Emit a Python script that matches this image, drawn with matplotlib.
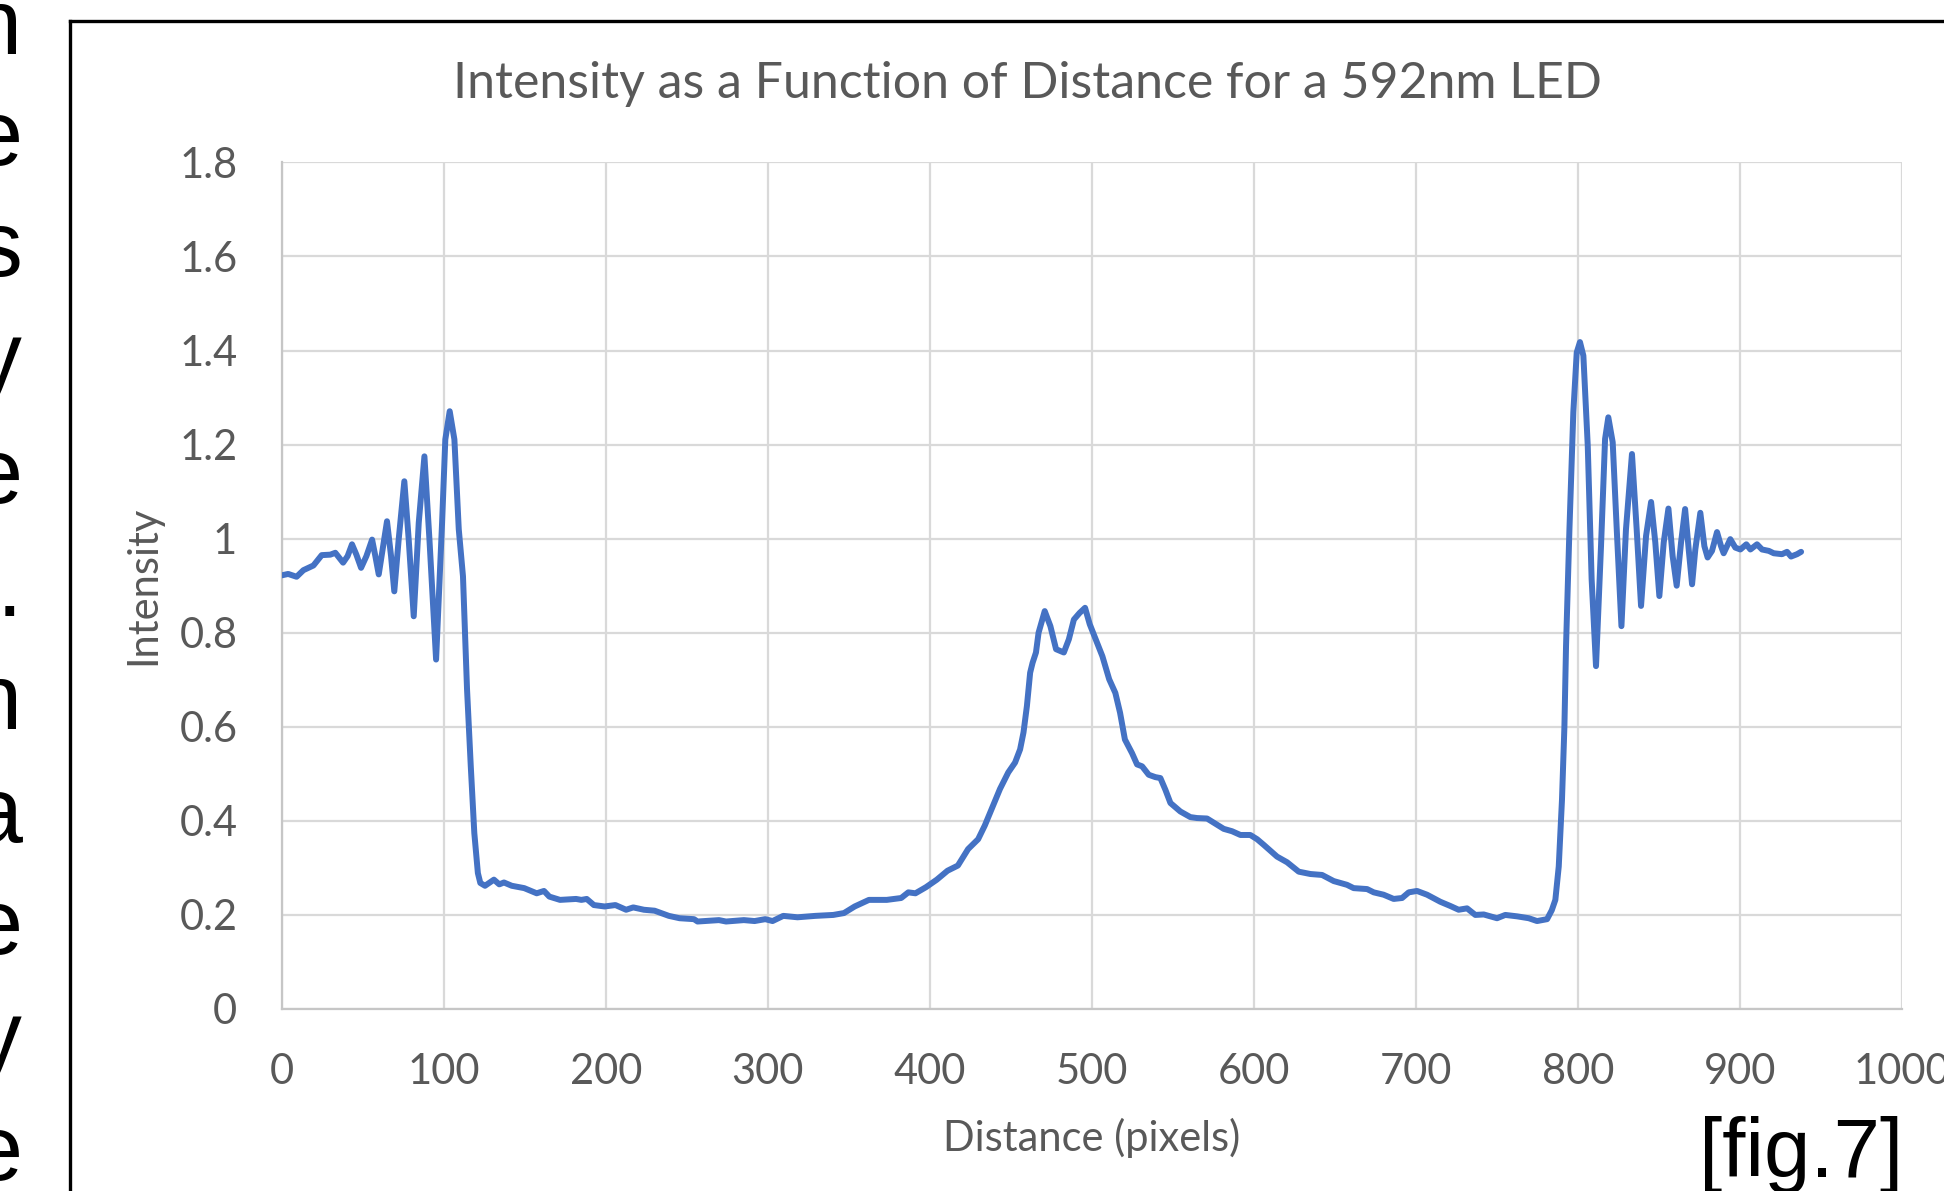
import matplotlib
matplotlib.use("Agg")
import matplotlib.pyplot as plt
from matplotlib.lines import Line2D

# distance (pixels) / intensity
distance = [0, 4, 9.2, 13.4, 19.6, 24.7, 30, 33.1, 37.9, 40.7, 43.4, 46.1, 49,
            52.3, 55.8, 57.8, 59.9, 62.6, 65, 67.5, 69.5, 72.2, 75.7, 78.4, 81.5,
            84.6, 88.1, 91.2, 95.3, 99, 101, 103.7, 106.6, 109.3, 111.9, 114.4,
            116.7, 118.9, 121.1, 122.6, 125.5, 131, 134.3, 137.2, 142, 149.7,
            157.4, 161.9, 165.2, 171.8, 181.7, 185, 188.3, 192.7, 199.3, 206,
            212.6, 217, 223.6, 230.2, 239, 245.6, 254.5, 256.7, 269.9, 274.3,
            285.3, 291.9, 298.5, 303, 309.6, 318.4, 329.4, 340.5, 347.1, 353.7,
            362.5, 373.5, 382.4, 386.8, 391.2, 397.7, 404.4, 411, 417.4, 423.7,
            429.9, 434, 438.2, 443.4, 448.5, 452.7, 455.8, 457.9, 460, 462,
            463.5, 465.6, 467.2, 471, 474.5, 478, 482.8, 485.9, 489, 492.5,
            495.9, 498.8, 502.5, 506.6, 510.8, 514.6, 517.5, 520.5, 524.9, 528,
            531.1, 535.2, 539.3, 542.4, 545.5, 548.6, 554.7, 560.9, 565, 571.2,
            576.3, 581.5, 586.6, 591.8, 597.9, 602.1, 606.2, 614.4, 620.6, 627.8,
            635, 642.2, 649.4, 657.6, 661.7, 670, 674.1, 680.2, 686.4, 691.6,
            695.7, 700.8, 707, 715.2, 721.4, 726.5, 731.7, 736.8, 742, 750.2,
            755.3, 762.6, 769.8, 774.9, 781.1, 784, 786.2, 788.3, 790.3, 791.8,
            792.8, 794.9, 797.3, 799.4, 801.4, 803.5, 806.2, 808.6, 811.3, 814.4,
            816.9, 818.9, 821.6, 824.1, 827, 829.8, 833.5, 836.4, 839.1, 842.2,
            845.3, 847.9, 850.4, 853.1, 856, 858.6, 861.1, 863.8, 866.3, 868.5,
            870.6, 872.6, 875.7, 878.2, 880.2, 882.9, 886, 888.5, 890.1, 894.2,
            897.3, 900.4, 904.1, 906.6, 910.7, 913.8, 918, 921, 926.1, 929.2,
            931.7, 935.4, 937.9]
intensity = [0.922, 0.925, 0.919, 0.933, 0.943, 0.965, 0.966, 0.97, 0.949, 0.963,
             0.988, 0.966, 0.938, 0.963, 0.998, 0.963, 0.924, 0.984, 1.037, 0.963,
             0.888, 0.998, 1.122, 0.998, 0.835, 1.034, 1.175, 0.998, 0.743, 1.034,
             1.211, 1.271, 1.211, 1.02, 0.92, 0.68,
             0.517, 0.374, 0.289, 0.268, 0.262, 0.275, 0.265, 0.269, 0.262, 0.257,
             0.246, 0.251, 0.239, 0.232, 0.234, 0.232, 0.234, 0.221, 0.218, 0.221,
             0.211, 0.216, 0.211, 0.209, 0.198, 0.193, 0.191, 0.186, 0.189, 0.186,
             0.189, 0.187, 0.191, 0.187, 0.198, 0.195, 0.198, 0.2, 0.204, 0.218,
             0.232, 0.232, 0.236, 0.248, 0.246, 0.259, 0.275, 0.294, 0.305, 0.34,
             0.361, 0.39, 0.425, 0.468, 0.503, 0.524, 0.552, 0.588, 0.644, 0.715,
             0.736, 0.758, 0.8, 0.846, 0.814, 0.765, 0.758, 0.786, 0.828, 0.842,
             0.853, 0.818, 0.786, 0.75, 0.701, 0.672, 0.63, 0.573, 0.544, 0.52,
             0.516, 0.498, 0.493, 0.491, 0.466, 0.438, 0.42, 0.408, 0.406, 0.405,
             0.394, 0.383, 0.378, 0.37, 0.37, 0.361, 0.349, 0.324, 0.312, 0.292,
             0.287, 0.285, 0.272, 0.264, 0.257, 0.255, 0.248, 0.243, 0.234, 0.236,
             0.248, 0.251, 0.243, 0.228, 0.219, 0.211, 0.214, 0.2, 0.201, 0.193,
             0.2, 0.197, 0.193, 0.187, 0.191, 0.21, 0.232, 0.303, 0.445, 0.601,
             0.772, 1.02, 1.269, 1.396, 1.418, 1.389, 1.198, 0.914, 0.729, 0.985,
             1.212, 1.258, 1.205, 1.02, 0.814, 1.02, 1.18, 1.02, 0.857, 1.006,
             1.078, 0.992, 0.878, 0.992, 1.064, 0.963, 0.9, 0.992, 1.063, 0.978,
             0.903, 0.977, 1.055, 0.984, 0.96, 0.974, 1.014, 0.984, 0.969, 0.999,
             0.981, 0.977, 0.988, 0.977, 0.988, 0.977, 0.974, 0.969, 0.967, 0.972,
             0.962, 0.967, 0.972]

x_ticks = [0, 100, 200, 300, 400, 500, 600, 700, 800, 900, 1000]
y_ticks = [0, 0.2, 0.4, 0.6, 0.8, 1.0, 1.2, 1.4, 1.6, 1.8]
y_tick_labels = ["0", "0.2", "0.4", "0.6", "0.8", "1", "1.2", "1.4", "1.6", "1.8"]

# cut-off ends of the document text lines on the left
side_letters = ["n", "e", "s", "y", "e", ".", "n", "a", "e", "y", "e"]
side_baselines = [54, 165, 276, 387, 503, 616, 729, 842, 954, 1066, 1180]

W, H = 1944, 1191
grey = "#595959"

fig = plt.figure(figsize=(W / 100, H / 100), dpi=100)
fig.set_facecolor("white")

ax = fig.add_axes([281.7 / W, 1 - 1009 / H, 1620 / W, 846.6 / H])
ax.plot(distance, intensity, color="#4472C4", lw=4.3,
        solid_joinstyle="round", solid_capstyle="round", zorder=3)

ax.set_xlim(0, 1000)
ax.set_ylim(0, 1.8)
ax.set_xticks(x_ticks)
ax.set_xticklabels([str(v) for v in x_ticks])
ax.set_yticks(y_ticks)
ax.set_yticklabels(y_tick_labels)
ax.grid(color="#d9d9d9", lw=1.6, zorder=0)
ax.set_axisbelow(True)
for s in ["top", "right"]:
    ax.spines[s].set_visible(False)
for s in ["left", "bottom"]:
    ax.spines[s].set_color("#c6c6c6")
    ax.spines[s].set_linewidth(1.6)
ax.tick_params(axis="both", length=0, labelsize=30, labelcolor=grey)
ax.tick_params(axis="y", pad=32)
ax.tick_params(axis="x", pad=32)
for lab in ax.get_xticklabels() + ax.get_yticklabels():
    lab.set_family("Lato")

ax.set_xlabel("Distance (pixels)", fontsize=30, color=grey, family="Lato", labelpad=19)
ax.set_ylabel("Intensity", fontsize=30, color=grey, family="Lato", labelpad=12)

fig.text(1027 / W, 1 - 84 / H, "Intensity as a Function of Distance for a 592nm LED",
         ha="center", va="center", fontsize=36, color=grey, family="Lato")

# frame of the embedded chart
fig.add_artist(Line2D([70 / W, 70 / W], [0, 1 - 21 / H], color="black", lw=2.4,
                      transform=fig.transFigure))
fig.add_artist(Line2D([70 / W, 1], [1 - 21 / H, 1 - 21 / H], color="black", lw=2.4,
                      transform=fig.transFigure))

for ch, base in zip(side_letters, side_baselines):
    fig.text(22 / W, 1 - base / H, ch, ha="right", va="baseline",
             fontsize=66, color="black", family="Liberation Sans")

fig.text(1903 / W, 1 - 1177 / H, "[fig.7]", ha="right", va="baseline",
         fontsize=60, color="black", family="Liberation Sans")

fig.savefig("out.png", dpi=100)
